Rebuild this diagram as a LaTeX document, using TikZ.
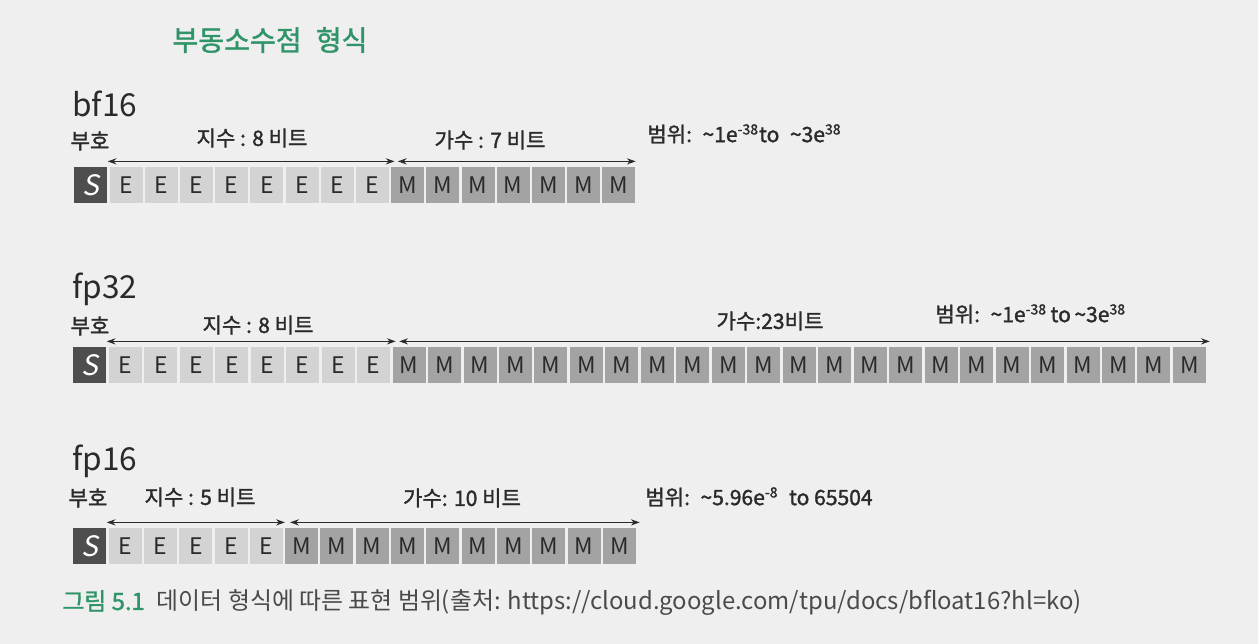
\documentclass[tikz,border=0pt]{standalone}
\usepackage{fontspec}
\setmainfont{Noto Sans CJK KR}[AutoFakeBold=1.5,AutoFakeSlant=0.2]
\usetikzlibrary{arrows.meta}
\definecolor{bg}{HTML}{EFEFEF}
\definecolor{sgray}{HTML}{4E4E4E}
\definecolor{egray}{HTML}{D3D3D3}
\definecolor{mgray}{HTML}{A3A3A3}
\definecolor{ttl}{HTML}{2F9568}
\definecolor{ink}{HTML}{2A2A2A}
\definecolor{capgray}{HTML}{4A4A4A}
\begin{document}
\begin{tikzpicture}[x=0.02cm,y=-0.02cm,
  cell/.style={minimum width=0.66cm,minimum height=0.72cm,inner sep=0pt,anchor=west},
  scell/.style={cell,fill=sgray,text=white,font=\fontsize{16}{16}\selectfont\itshape},
  ecell/.style={cell,fill=egray,text=ink,font=\fontsize{13}{13}\selectfont},
  mcell/.style={cell,fill=mgray,text=ink,font=\fontsize{13}{13}\selectfont},
  fmt/.style={text=ink,font=\fontsize{18}{18}\selectfont,inner sep=0pt},
  lab/.style={text=ink,font=\fontsize{12}{12}\selectfont\bfseries,inner sep=0pt},
  rng/.style={lab,anchor=west},
  span/.style={{Stealth[length=5pt,width=3.5pt]}-{Stealth[length=5pt,width=3.5pt]},line width=0.8pt,draw=ink},
]
\fill[bg] (0,0) rectangle (1258,644);
% title
\node[text=ttl,font=\fontsize{16}{16}\selectfont\bfseries,inner sep=0pt] (title) at (270,40) {부동소수점\hspace{0.5em}형식};

% ---- bf16
\node[fmt,anchor=west] (bfname) at (72,104) {bf16};
\node[scell] (b1) at (74,185) {S};
\foreach \i in {2,...,9} \node[ecell] (b\i) at ({74+(\i-1)*35.2},185) {E};
\foreach \i in {10,...,16} \node[mcell] (b\i) at ({74+(\i-1)*35.2},185) {M};
\draw[span] ([yshift=3pt]b1.north east) -- ([yshift=3pt,xshift=3pt]b9.north east);
\draw[span] ([yshift=3pt,xshift=4pt]b10.north west) -- ([yshift=3pt]b16.north east);
\node[lab] (bfs) at (90,141) {부호};
\node[lab] (bfe) at (252,138) {지수 : 8 비트};
\node[lab] (bfm) at (490,140) {가수 : 7 비트};
\node[rng] (bfr) at (647,134) {범위:\enspace\textasciitilde1e\textsuperscript{-38}to\enspace\textasciitilde3e\textsuperscript{38}};

% ---- fp32
\node[fmt,anchor=west] (f32name) at (72,289) {fp32};
\node[scell] (c1) at (73,365) {S};
\foreach \i in {2,...,9} \node[ecell] (c\i) at ({73+(\i-1)*35.47},365) {E};
\foreach \i in {10,...,32} \node[mcell] (c\i) at ({73+(\i-1)*35.47},365) {M};
\draw[span] ([yshift=3pt]c1.north east) -- ([yshift=3pt,xshift=3pt]c9.north east);
\draw[span] ([yshift=3pt,xshift=4pt]c10.north west) -- ([yshift=3pt,xshift=2pt]c32.north east);
\node[lab] (f32s) at (90,326) {부호};
\node[lab] (f32e) at (258,325) {지수 : 8 비트};
\node[lab] (f32m) at (770,321) {가수:23비트};
\node[rng] (f32r) at (935,314) {범위:\enspace\textasciitilde1e\textsuperscript{-38}\,to\,\textasciitilde3e\textsuperscript{38}};

% ---- fp16
\node[fmt,anchor=west] (f16name) at (72,461) {fp16};
\node[scell] (d1) at (73,546) {S};
\foreach \i in {2,...,6} \node[ecell] (d\i) at ({73+(\i-1)*35.3},546) {E};
\foreach \i in {7,...,16} \node[mcell] (d\i) at ({73+(\i-1)*35.3},546) {M};
\draw[span] ([yshift=3pt]d1.north east) -- ([yshift=3pt,xshift=1pt]d6.north east);
\draw[span] ([yshift=3pt,xshift=3pt]d7.north west) -- ([yshift=3pt,xshift=2pt]d16.north east);
\node[lab] (f16s) at (88,498) {부호};
\node[lab] (f16e) at (200,497) {지수 : 5 비트};
\node[lab] (f16m) at (462,498) {가수: 10 비트};
\node[rng] (f16r) at (645,497) {범위:\enspace\textasciitilde5.96e\textsuperscript{-8}\enspace to 65504};

% caption
\node[anchor=west,inner sep=0pt,font=\fontsize{13.6}{14}\selectfont] (cap) at (62,603)
  {\textcolor{ttl}{\bfseries 그림 5.1}\enspace\textcolor{capgray}{데이터 형식에 따른 표현 범위(출처: https://cloud.google.com/tpu/docs/bfloat16?hl=ko)}};
\end{tikzpicture}
\end{document}
